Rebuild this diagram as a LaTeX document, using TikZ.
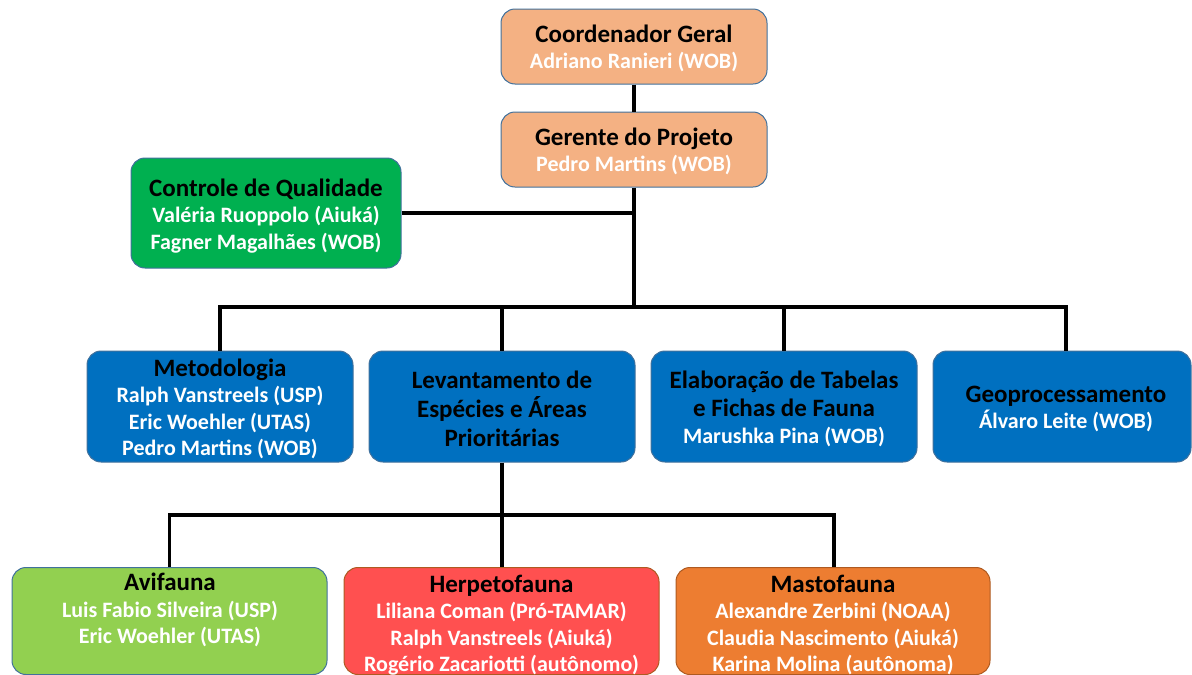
\documentclass[tikz,border=0pt]{standalone}
\usepackage{fontspec}
\setmainfont{Carlito}
\definecolor{peach}{HTML}{F4B183}
\definecolor{qgreen}{HTML}{00B050}
\definecolor{qblue}{HTML}{0070C0}
\definecolor{lgreen}{HTML}{92D050}
\definecolor{qred}{HTML}{FF5050}
\definecolor{qorange}{HTML}{ED7D31}
\definecolor{bord}{HTML}{41719C}
\definecolor{bordb}{HTML}{AE5A21}
\newcommand{\ttl}[1]{{\fontsize{25}{27}\selectfont #1}}
\newcommand{\nm}[1]{{\color{white}#1}}
\tikzset{
  box/.style={draw=bord, line width=1pt, rounded corners=14pt, inner sep=0pt, align=center,
    font=\bfseries\fontsize{22}{26.5}\selectfont},
  txt/.style={inner sep=0pt, align=center, font=\bfseries\fontsize{22}{26.5}\selectfont},
  conn/.style={line width=3.6pt, black}
}
\begin{document}
\begin{tikzpicture}[x=1pt,y=-1pt]
\useasboundingbox (0,0) rectangle (1192,675);
\clip (0,0) rectangle (1192,675);
% boxes
\node[box, fill=peach, minimum width=266, minimum height=75] (coord) at (634,46.5) {};
\node[txt] (coordt) at (634,48.5) {\ttl{Coordenador Geral}\\\nm{Adriano Ranieri (WOB)}};
\node[box, fill=peach, minimum width=266, minimum height=75] (ger) at (634,149.5) {};
\node[txt] (gert) at (634,151.5) {\ttl{Gerente do Projeto}\\\nm{Pedro Martins (WOB)}};
\node[box, fill=qgreen, minimum width=270, minimum height=110] (ctrl) at (266,213) {};
\node[txt] (ctrlt) at (266,216) {\ttl{Controle de Qualidade}\\\nm{Valéria Ruoppolo (Aiuká)}\\\nm{Fagner Magalhães (WOB)}};
\node[box, fill=qblue, minimum width=266, minimum height=111] (met) at (220,406.5) {};
\node[txt] (mett) at (220,409) {\ttl{Metodologia}\\\nm{Ralph Vanstreels (USP)}\\\nm{Eric Woehler (UTAS)}\\\nm{Pedro Martins (WOB)}};
\node[box, fill=qblue, minimum width=266, minimum height=111] (lev) at (502,406.5) {};
\node[txt, font=\bfseries\fontsize{25}{29}\selectfont] (levt) at (502,408.5)
  {Levantamento de\\Espécies e Áreas\\Prioritárias};
\node[box, fill=qblue, minimum width=266, minimum height=111] (ela) at (784,406.5) {};
\node[txt] (elat) at (784,409)
  {\ttl{Elaboração de Tabelas}\\[1.5pt]\ttl{e Fichas de Fauna}\\\nm{Marushka Pina (WOB)}};
\node[box, fill=qblue, minimum width=258, minimum height=111] (geo) at (1062,406.5) {};
\node[txt] (geot) at (1066,409) {\ttl{Geoprocessamento}\\\nm{Álvaro Leite (WOB)}};
\node[box, fill=lgreen, minimum width=315, minimum height=107] (avi) at (169.5,621) {};
\node[txt] (avit) at (170,610) {\ttl{Avifauna}\\\nm{Luis Fabio Silveira (USP)}\\\nm{Eric Woehler (UTAS)}};
\node[box, draw=bordb, fill=qred, minimum width=315, minimum height=107] (her) at (501.5,621) {};
\node[txt] (hert) at (501.5,625) {\ttl{Herpetofauna}\\\nm{Liliana Coman (Pró-TAMAR)}\\\nm{Ralph Vanstreels (Aiuká)}\\\nm{Rogério Zacariotti (autônomo)}};
\node[box, draw=bordb, fill=qorange, minimum width=314, minimum height=107] (mas) at (833,621) {};
\node[txt] (mast) at (833,625) {\ttl{Mastofauna}\\\nm{Alexandre Zerbini (NOAA)}\\\nm{Claudia Nascimento (Aiuká)}\\\nm{Karina Molina (autônoma)}};
% connectors
\coordinate (bus) at (634,307);
\coordinate (sub) at (502,515);
\draw[conn] (coord.south) -- (ger.north);
\draw[conn] (ger.south) -- (bus);
\draw[conn] (ctrl.east) -- (ctrl.east -| ger.south);
\draw[conn] (met.north) |- (bus);
\draw[conn] (lev.north) -- (lev.north |- bus);
\draw[conn] (ela.north) -- (ela.north |- bus);
\draw[conn] ([xshift=4]geo.north) |- (bus);
\draw[conn] (lev.south) -- (lev.south |- her.north);
\draw[conn] (avi.north) |- (sub);
\draw[conn] ([xshift=1]mas.north) |- (sub);
\end{tikzpicture}
\end{document}
